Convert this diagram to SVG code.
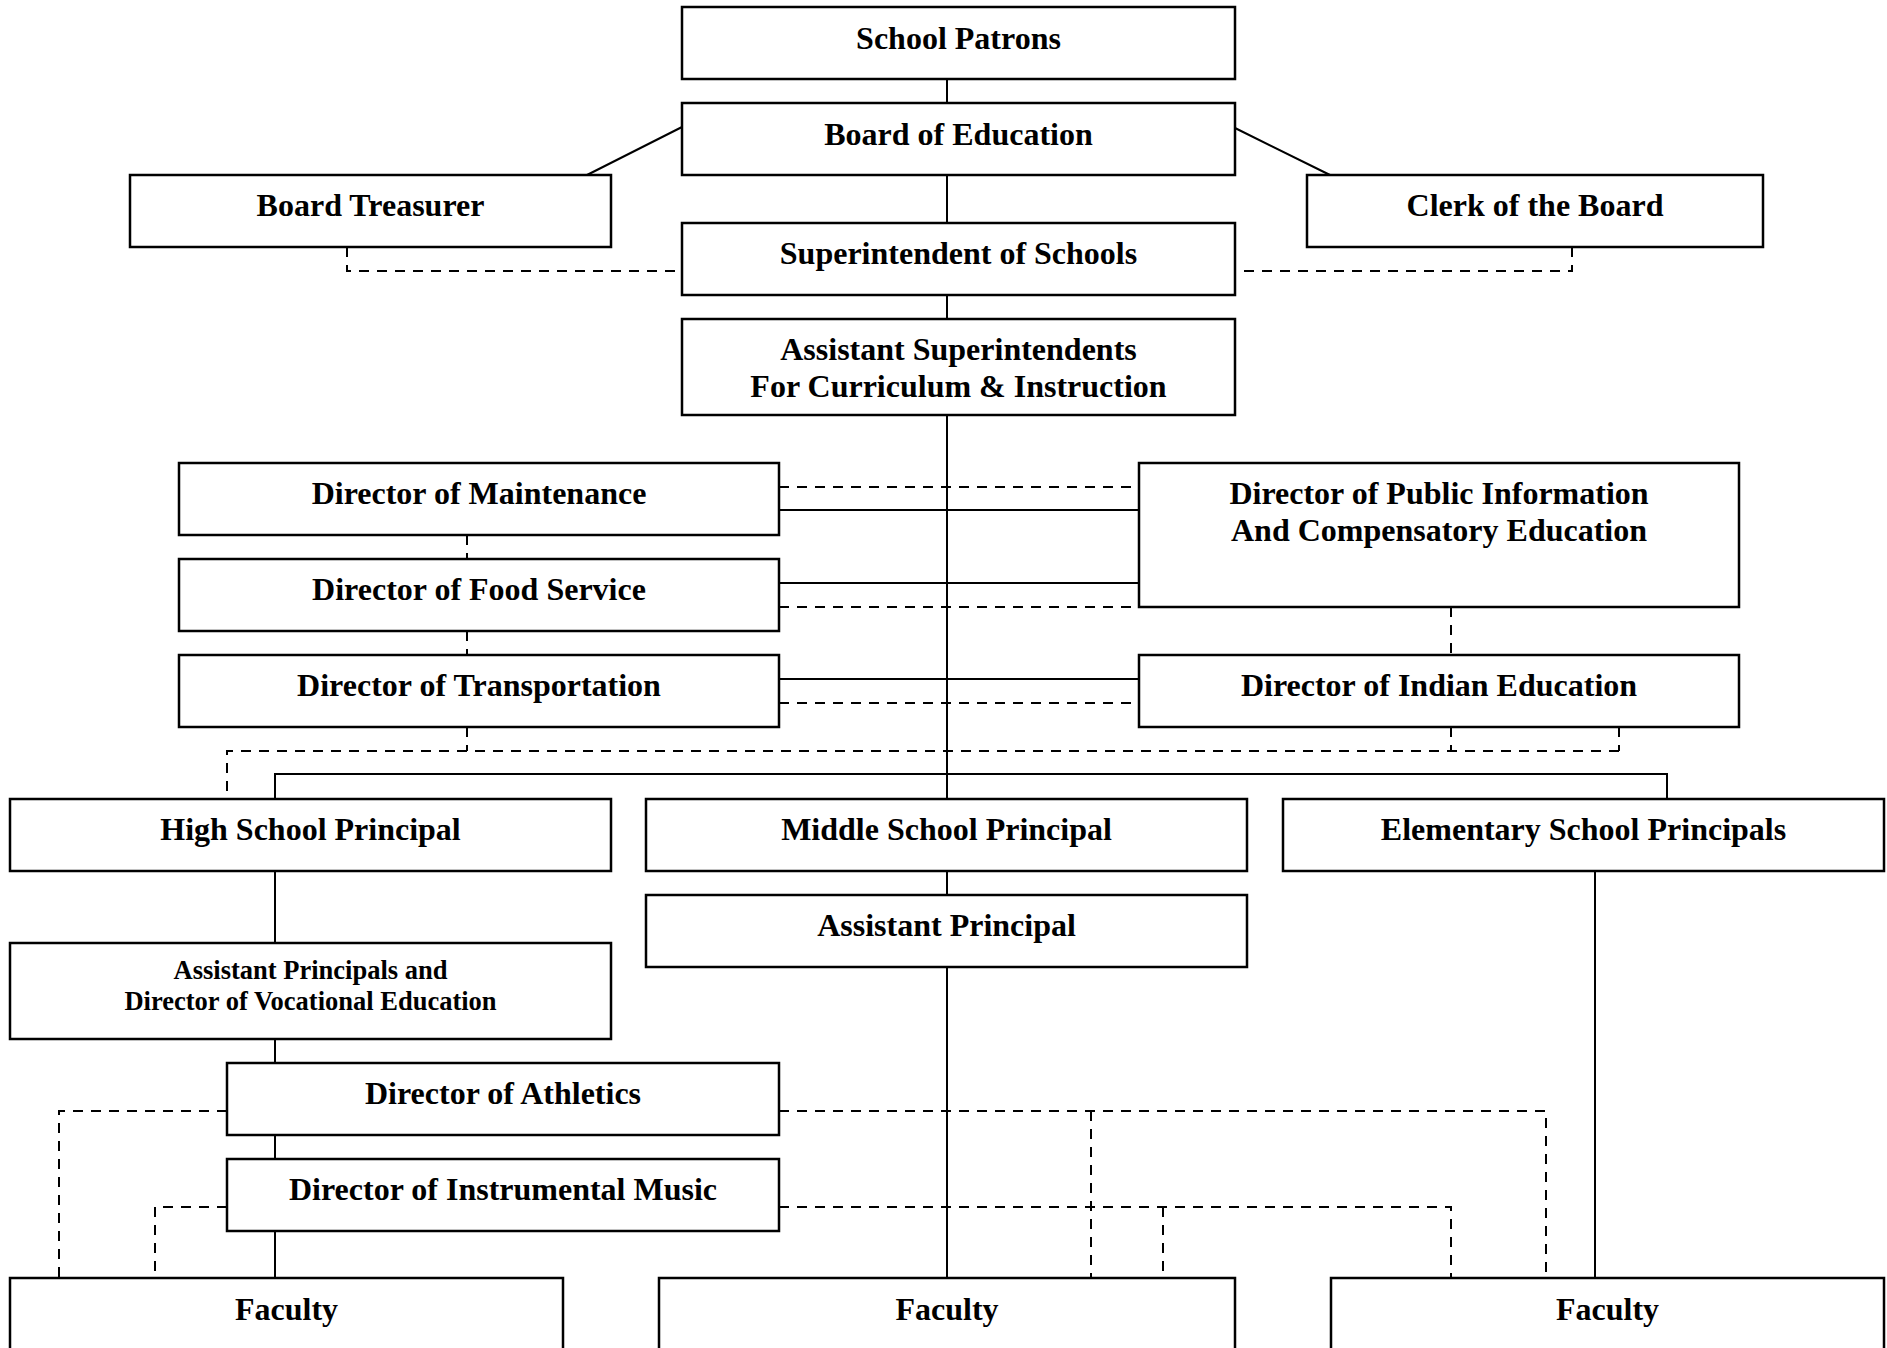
<svg xmlns="http://www.w3.org/2000/svg" width="1887" height="1348" viewBox="0 0 1887 1348">
<style>
.box{fill:#fff;stroke:#000;stroke-width:2.5}
.t{font-family:"Liberation Serif","Times New Roman",serif;font-weight:bold;font-size:32px;fill:#000;text-anchor:middle}
.ts{font-size:26.5px}
.s{fill:none;stroke:#000;stroke-width:2}
.d{fill:none;stroke:#000;stroke-width:2;stroke-dasharray:10 8}
</style>
<rect width="1887" height="1348" fill="#fff"/>
<g id="connectors">
<path class="s" d="M947,79V103M947,175V223M947,295V319M947,415V799M682,127L587,175M1235,128L1330,175M779,510H1139M779,583H1139M779,679H1139M275,799V774H1667V799M947,871V895M947,967V1278M275,871V943M275,1039V1063M275,1135V1159M275,1231V1278M1595,871V1278"/>
<path class="d" d="M347,247V271H682M1572,247V271H1243M779,487H1139M779,607H1139M779,703H1139M467,535V559M467,631V655M467,727V751M1451,607V655M1451,727V751M1619,727V751M1619,751H227V799M227,1111H59V1278M227,1207H155V1278M779,1111H1546V1278M1091,1111V1278M779,1207H1451V1278M1163,1207V1278"/>
</g>
<g id="patrons"><rect class="box" x="682" y="7" width="553" height="72"/><text class="t" x="958.5" y="48.5">School Patrons</text></g>
<g id="board"><rect class="box" x="682" y="103" width="553" height="72"/><text class="t" x="958.5" y="144.5">Board of Education</text></g>
<g id="treasurer"><rect class="box" x="130" y="175" width="481" height="72"/><text class="t" x="370.5" y="216">Board Treasurer</text></g>
<g id="clerk"><rect class="box" x="1307" y="175" width="456" height="72"/><text class="t" x="1535" y="216">Clerk of the Board</text></g>
<g id="superintendent"><rect class="box" x="682" y="223" width="553" height="72"/><text class="t" x="958.5" y="264">Superintendent of Schools</text></g>
<g id="asst-supt"><rect class="box" x="682" y="319" width="553" height="96"/><text class="t" x="958.5" y="360">Assistant Superintendents</text><text class="t" x="958.5" y="396.5">For Curriculum &amp; Instruction</text></g>
<g id="maintenance"><rect class="box" x="179" y="463" width="600" height="72"/><text class="t" x="479" y="504">Director of Maintenance</text></g>
<g id="food"><rect class="box" x="179" y="559" width="600" height="72"/><text class="t" x="479" y="600">Director of Food Service</text></g>
<g id="transportation"><rect class="box" x="179" y="655" width="600" height="72"/><text class="t" x="479" y="696">Director of Transportation</text></g>
<g id="public-info"><rect class="box" x="1139" y="463" width="600" height="144"/><text class="t" x="1439" y="504">Director of Public Information</text><text class="t" x="1439" y="540.5">And Compensatory Education</text></g>
<g id="indian"><rect class="box" x="1139" y="655" width="600" height="72"/><text class="t" x="1439" y="696">Director of Indian Education</text></g>
<g id="high-school"><rect class="box" x="10" y="799" width="601" height="72"/><text class="t" x="310.5" y="840">High School Principal</text></g>
<g id="middle-school"><rect class="box" x="646" y="799" width="601" height="72"/><text class="t" x="946.5" y="840">Middle School Principal</text></g>
<g id="elementary"><rect class="box" x="1283" y="799" width="601" height="72"/><text class="t" x="1583.5" y="840">Elementary School Principals</text></g>
<g id="asst-principals-voc"><rect class="box" x="10" y="943" width="601" height="96"/><text class="t ts" x="310.5" y="979">Assistant Principals and</text><text class="t ts" x="310.5" y="1010">Director of Vocational Education</text></g>
<g id="asst-principal"><rect class="box" x="646" y="895" width="601" height="72"/><text class="t" x="946.5" y="936">Assistant Principal</text></g>
<g id="athletics"><rect class="box" x="227" y="1063" width="552" height="72"/><text class="t" x="503" y="1104">Director of Athletics</text></g>
<g id="music"><rect class="box" x="227" y="1159" width="552" height="72"/><text class="t" x="503" y="1200">Director of Instrumental Music</text></g>
<g id="faculty-high"><rect class="box" x="10" y="1278" width="553" height="90"/><text class="t" x="286.5" y="1319.5">Faculty</text></g>
<g id="faculty-middle"><rect class="box" x="659" y="1278" width="576" height="90"/><text class="t" x="947" y="1319.5">Faculty</text></g>
<g id="faculty-elementary"><rect class="box" x="1331" y="1278" width="553" height="90"/><text class="t" x="1607.5" y="1319.5">Faculty</text></g>
</svg>
